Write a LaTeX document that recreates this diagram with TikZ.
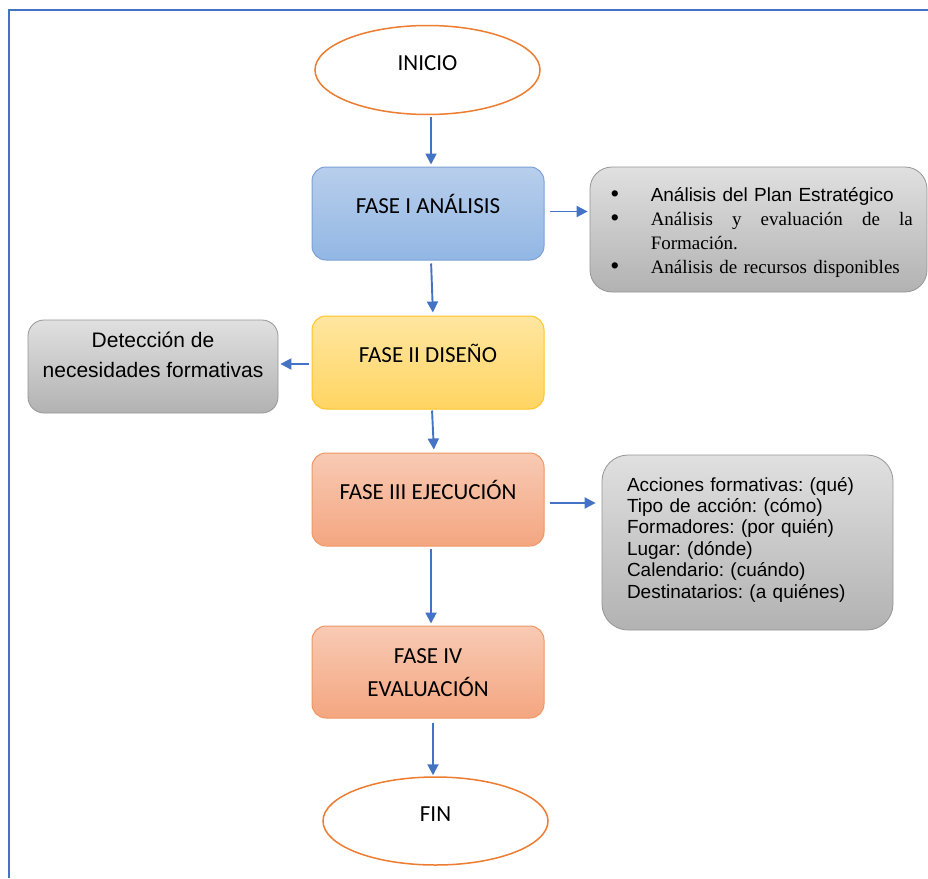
\documentclass[tikz,border=0pt]{standalone}
\usepackage{fontspec}
\setmainfont{Carlito}
\newfontfamily\arialf{Liberation Sans}
\newfontfamily\timesf{Liberation Serif}
\usetikzlibrary{arrows.meta,shapes.geometric}
\frenchspacing

\definecolor{linkblue}{RGB}{68,114,196}
\definecolor{termorange}{RGB}{237,125,49}
\definecolor{blueTop}{RGB}{184,206,236}
\definecolor{blueBot}{RGB}{146,183,228}
\definecolor{blueLine}{RGB}{124,160,214}
\definecolor{yelTop}{RGB}{255,230,160}
\definecolor{yelBot}{RGB}{255,213,98}
\definecolor{yelLine}{RGB}{255,196,40}
\definecolor{salTop}{RGB}{248,202,180}
\definecolor{salBot}{RGB}{244,166,128}
\definecolor{salLine}{RGB}{240,150,100}
\definecolor{greyTop}{RGB}{224,224,224}
\definecolor{greyBot}{RGB}{178,178,178}
\definecolor{greyLine}{RGB}{150,150,150}

\newcommand{\bul}{\makebox[40pt][l]{{\arialf\fontsize{23}{22}\selectfont •}}}

\tikzset{
  link/.style={draw=linkblue, line width=1.9pt, -{Triangle[length=11pt,width=11pt]}},
  terminal/.style={ellipse, draw=termorange, line width=1.5pt, fill=white,
    minimum width=225, minimum height=89, inner sep=0pt,
    font=\fontsize{23}{28}\selectfont},
  phase/.style={rectangle, rounded corners=14pt, minimum width=232,
    minimum height=93, line width=1pt, inner sep=0pt,
    font=\fontsize{23}{28}\selectfont},
  bluephase/.style={phase, draw=blueLine, top color=blueTop, bottom color=blueBot},
  yelphase/.style={phase, draw=yelLine, top color=yelTop, bottom color=yelBot},
  salphase/.style={phase, draw=salLine, top color=salTop, bottom color=salBot},
  infobox/.style={rectangle, rounded corners=22pt, line width=0.8pt,
    draw=greyLine, top color=greyTop, bottom color=greyBot, inner sep=0pt},
}

\begin{document}
\begin{tikzpicture}[x=1pt,y=-1pt]
\useasboundingbox (0,0) rectangle (928,878);
\fill[white] (0,0) rectangle (928,878);

% page frame (left and top edges)
\draw[linkblue, line width=2pt] (9,878) -- (9,10) -- (928,10);

% flow of the four phases
\node[terminal] (inicio) at (427.5,70) {\smash{INICIO}};
\node[bluephase] (f1) at (428,213.5) {\smash{FASE I ANÁLISIS}};
\node[yelphase] (f2) at (428,362.5) {\smash{FASE II DISEÑO}};
\node[salphase] (f3) at (428,499.5) {\smash{FASE III EJECUCIÓN}};
\node[salphase, minimum height=92,
  label={[name=f4text, align=center, font=\fontsize{23}{33}\selectfont,
          yshift=-1pt]center:FASE IV\\EVALUACIÓN}] (f4) at (428,672) {};
\node[terminal, minimum height=88] (fin) at (435.5,821) {\smash{FIN}};

% side notes
\node[infobox, minimum width=337, minimum height=125,
  label={[name=info1text, align=left, text width=302.5, inner sep=0pt,
          font=\fontsize{19}{24.2}\selectfont, xshift=3.5pt, yshift=-3pt]center:%
    \bul{\arialf Análisis del Plan Estratégico}\\
    \bul\makebox[262pt][l]{\timesf Análisis\hfill y\hfill evaluación\hfill de\hfill la}\\
    \hspace*{40pt}{\timesf Formación.}\\
    \bul{\timesf Análisis de recursos disponibles}}]
  (info1) at (758.5,229.5) {};

\node[infobox, minimum width=250, minimum height=93, rounded corners=16pt,
  label={[name=dettext, align=center, inner sep=0pt,
          font=\arialf\fontsize{21}{30}\selectfont, yshift=12pt]center:%
    Detección de\\necesidades formativas}]
  (det) at (153,366.5) {};

\node[infobox, minimum width=291, minimum height=175, rounded corners=26pt,
  label={[name=info2text, align=left, text width=240, inner sep=0pt,
          font=\arialf\fontsize{19}{21.4}\selectfont, xshift=-0.5pt, yshift=3pt]center:%
    Acciones formativas: (qué)\\
    Tipo de acción: (cómo)\\
    Formadores: (por quién)\\
    Lugar: (dónde)\\
    Calendario: (cuándo)\\
    Destinatarios: (a quiénes)}]
  (info2) at (747.5,542.5) {};

% connectors
\draw[link, shorten <=2pt, shorten >=2pt] ([xshift=3.5pt]inicio.south) -- ([xshift=3pt]f1.north);
\draw[link, shorten <=3pt, shorten >=3pt] ([xshift=3pt]f1.south) -- ([xshift=5pt]f2.north);
\draw[link, shorten <=1pt, shorten >=3pt] ([xshift=4pt]f2.south) -- ([xshift=6pt]f3.north);
\draw[link, shorten <=2pt, shorten >=2pt] ([xshift=3pt]f3.south) -- ([xshift=3pt]f4.north);
\draw[link, shorten <=4pt, shorten >=1pt] ([xshift=5pt]f4.south) -- ([xshift=-2.5pt]fin.north);

\draw[link, shorten <=5pt, shorten >=2pt] ([yshift=2pt]f1.east) -- ([yshift=18pt]info1.west);
\draw[link, shorten <=3pt, shorten >=2pt] ([yshift=-1.5pt]f2.west) -- ([yshift=2.5pt]det.east);
\draw[link, shorten <=5pt, shorten >=6pt] ([yshift=-3.5pt]f3.east) -- ([yshift=39.5pt]info2.west);
\end{tikzpicture}
\end{document}
